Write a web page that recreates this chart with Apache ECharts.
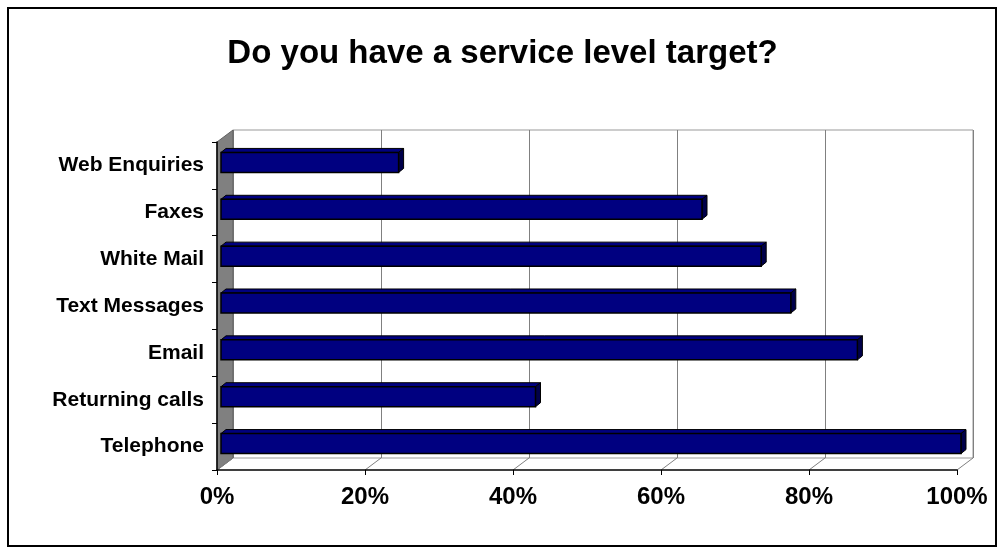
<!DOCTYPE html>
<html>
<head>
<meta charset="utf-8">
<script src="https://cdn.jsdelivr.net/npm/echarts@6/dist/echarts.min.js"></script>
<style>html,body{margin:0;padding:0;background:#fff;}#c{width:1005px;height:554px;}</style>
</head>
<body>
<div id="c"></div>
<script>
// ---- data ----
var titleText = 'Do you have a service level target?';
var categories = ['Telephone', 'Returning calls', 'Email', 'Text Messages', 'White Mail', 'Faxes', 'Web Enquiries'];
var values = [1.00, 0.425, 0.86, 0.77, 0.73, 0.65, 0.24];
var tickValues = [0, 0.2, 0.4, 0.6, 0.8, 1.0];

// ---- layout ----
var L = 217, T = 142, W = 740, H = 328, DX = 16, DY = 12;
var BOFF_X = 4, BOFF_Y = -3, BDX = 5, BDY = 4, BAR_FRAC = 0.427;
var FONT = '"Liberation Sans", Arial, sans-serif';

var chart = echarts.init(document.getElementById('c'), null, {renderer: 'canvas'});

function renderBar(params, api) {
  var cat = api.value(0), v = api.value(1);
  var p0 = api.coord([0, cat]);
  var p1 = api.coord([v, cat]);
  var h = api.size([0, 1])[1] * BAR_FRAC;
  var x0 = p0[0] + BOFF_X, x1 = p1[0] + BOFF_X;
  var yc = p0[1] + BOFF_Y;
  var yt = yc - h / 2, yb = yc + h / 2;
  var stroke = '#000000';
  return {
    type: 'group',
    children: [
      {type: 'polygon', shape: {points: [[x0, yt], [x0 + BDX, yt - BDY], [x1 + BDX, yt - BDY], [x1, yt]]},
       style: {fill: '#000080', stroke: stroke, lineWidth: 1}},
      {type: 'polygon', shape: {points: [[x1, yt], [x1 + BDX, yt - BDY], [x1 + BDX, yb - BDY], [x1, yb]]},
       style: {fill: '#00004a', stroke: stroke, lineWidth: 1}},
      {type: 'rect', shape: {x: x0, y: yt, width: x1 - x0, height: h},
       style: {fill: '#000080', stroke: stroke, lineWidth: 1.5}}
    ]
  };
}

var option = {
  backgroundColor: '#ffffff',
  animation: false,
  title: {
    text: titleText, left: 'center', top: 32,
    textStyle: {fontFamily: FONT, fontSize: 33, fontWeight: 'bold', color: '#000'}
  },
  grid: [
    {left: L + DX, top: T - DY, width: W, height: H, show: true, backgroundColor: '#fff',
     borderColor: '#999999', borderWidth: 1, containLabel: false, outerBoundsMode: 'none'},
    {left: L, top: T, width: W, height: H, show: false, containLabel: false, outerBoundsMode: 'none'}
  ],
  xAxis: [
    {gridIndex: 0, type: 'value', min: 0, max: 1, interval: 0.2,
     axisLine: {show: false}, axisTick: {show: false}, axisLabel: {show: false},
     splitLine: {show: true, lineStyle: {color: '#808080', width: 1}}},
    {gridIndex: 1, type: 'value', min: 0, max: 1, interval: 0.2, z: 3,
     axisLine: {show: true, lineStyle: {color: '#000', width: 1.5}},
     axisTick: {show: true, inside: false, length: 5, lineStyle: {color: '#000', width: 1}},
     splitLine: {show: false},
     axisLabel: {margin: 15, color: '#000', fontFamily: FONT, fontSize: 24, fontWeight: 'bold',
       formatter: function (v) { return Math.round(v * 100) + '%'; }}}
  ],
  yAxis: [
    {gridIndex: 0, type: 'category', data: categories, show: false},
    {gridIndex: 1, type: 'category', data: categories, z: 3,
     axisLine: {show: true, lineStyle: {color: '#000', width: 1.5}},
     axisTick: {show: true, inside: false, length: 5, lineStyle: {color: '#000', width: 1}},
     splitLine: {show: false},
     axisLabel: {margin: 13, color: '#000', fontFamily: FONT, fontSize: 21, fontWeight: 'bold'}}
  ],
  series: [{
    type: 'custom', xAxisIndex: 1, yAxisIndex: 1, z: 10,
    renderItem: renderBar,
    encode: {x: 1, y: 0},
    data: categories.map(function (c, i) { return [i, values[i]]; })
  }]
};
chart.setOption(option);

// walls and floor lines built from axis positions
var floorLines = tickValues.map(function (v) {
  var x = chart.convertToPixel({xAxisIndex: 1}, v);
  return {type: 'line', z: 2, shape: {x1: x, y1: T + H, x2: x + DX, y2: T + H - DY},
          style: {stroke: '#808080', lineWidth: 1}};
});
chart.setOption({
  graphic: [
    {type: 'rect', z: 100, shape: {x: 8, y: 8, width: 988, height: 538},
     style: {fill: 'none', stroke: '#000', lineWidth: 2}},
    {type: 'polygon', z: 1,
     shape: {points: [[L, T], [L + DX, T - DY], [L + DX, T + H - DY], [L, T + H]]},
     style: {fill: '#808080', stroke: '#606060', lineWidth: 1}}
  ].concat(floorLines)
});
</script>
</body>
</html>
